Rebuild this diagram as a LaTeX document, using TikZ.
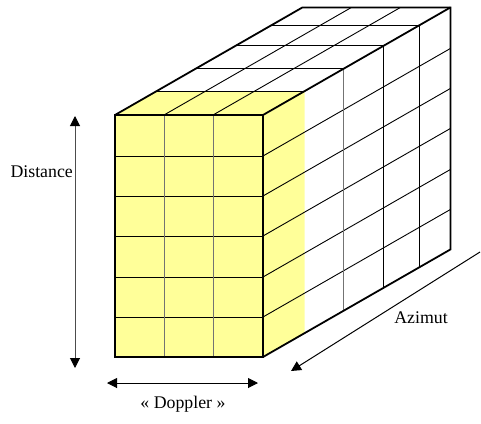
\documentclass[tikz,border=0pt]{standalone}
\usepackage{fontspec}
\setmainfont{Liberation Serif}
\usetikzlibrary{arrows.meta}
\definecolor{slice}{RGB}{255,255,153}
\tikzset{
  thin grid/.style={line width=0.9pt, black},
  gray grid/.style={line width=0.9pt, black!55},
  outline/.style={line width=1.8pt, black, line join=miter},
  dimarrow/.style={line width=1pt, -{Triangle[length=10pt,width=10pt,color=black]}},
  dimarrows/.style={line width=1pt, {Triangle[length=10pt,width=10pt,color=black]}-{Triangle[length=10pt,width=10pt,color=black]}},
  lbl/.style={font=\fontsize{17.8}{19}\selectfont, inner sep=0pt}
}
\begin{document}
\begin{tikzpicture}[x=1pt,y=-1pt]
\useasboundingbox (0,0) rectangle (481,423);
% depth offsets
\def\DX{187.5}\def\DY{-107.6}
% yellow first slice
\fill[slice] (115,115) -- (156.5,91.2) -- (304.5,91.2) -- (304.5,333.2) -- (263,357) -- (115,357) -- cycle;
% top face: lines across at each depth
\foreach \d/\e in {41.5/-23.8, 80.5/-46.2, 120.5/-69.2, 156.5/-89.8}
  \draw[thin grid] (115+\d,115+\e) -- (263+\d,115+\e);
% top face: depth lines at columns
\foreach \x in {164,213}
  \draw[thin grid] (\x,115) -- (\x+\DX,115+\DY);
% right face: row lines
\foreach \y in {156,196,236,277,317}
  \draw[thin grid] (263,\y) -- (263+\DX,\y+\DY);
% right face: verticals
\draw[gray grid] (263+80.5,115-46.2) -- (263+80.5,357-46.2);
\foreach \d/\e in {120.5/-69.2, 156.5/-89.8}
  \draw[thin grid] (263+\d,115+\e) -- (263+\d,357+\e);
% front face grid
\foreach \y in {156,196,236,277,317}
  \draw[thin grid] (115,\y) -- (263,\y);
\foreach \x in {164,213}
  \draw[gray grid] (\x,115) -- (\x,357);
% outlines
\draw[outline] (115,115) rectangle (263,357);
\draw[outline] (115,115) -- (115+\DX,115+\DY) -- (263+\DX,115+\DY) -- (263+\DX,357+\DY) -- (263,357);
\draw[outline] (263,115) -- (263+\DX,115+\DY);
% dimension arrows
\coordinate (dtop) at (75,116);
\coordinate (dbot) at (75,368);
\draw[dimarrows, black!70] (dtop) -- (dbot);
\node[lbl, anchor=east] (dist) at (73,172) {Distance};
\coordinate (dopl) at (107,383);
\coordinate (dopr) at (258,383);
\draw[dimarrows] (dopl) -- (dopr);
\node[lbl] (dop) at (183,404) {« Doppler »};
\coordinate (azs) at (480,252);
\coordinate (aze) at (291,371);
\draw[dimarrow] (azs) -- (aze);
\node[lbl] (az) at (421,318) {Azimut};
\end{tikzpicture}
\end{document}
